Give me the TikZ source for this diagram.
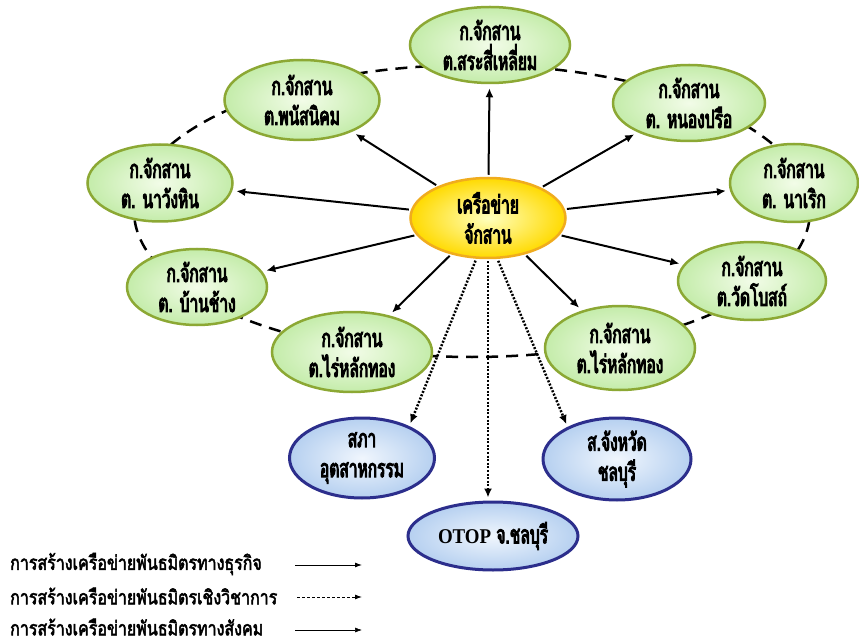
\documentclass[tikz,border=0pt]{standalone}
\usepackage{fontspec}
\newfontfamily\thai[Script=Thai,FakeStretch=0.62,FakeBold=4]{Loma}
\newfontfamily\thaileg[Script=Thai,FakeStretch=0.8,FakeBold=2.5]{Loma}
\newfontfamily\latn[FakeStretch=0.9]{Liberation Serif}
\usetikzlibrary{shapes.geometric,arrows.meta}
\definecolor{gborder}{RGB}{140,168,52}
\definecolor{ginner}{RGB}{242,252,232}
\definecolor{gouter}{RGB}{196,236,170}
\definecolor{yborder}{RGB}{240,172,30}
\definecolor{yinner}{RGB}{255,255,190}
\definecolor{youter}{RGB}{255,218,0}
\definecolor{bborder}{RGB}{44,46,140}
\definecolor{binner}{RGB}{240,246,253}
\definecolor{bouter}{RGB}{182,208,240}
\begin{document}
\begin{tikzpicture}[x=1pt,y=-1pt,
  base/.style={ellipse, inner sep=0pt, align=center, line width=2.5pt,
    font=\thai\fontsize{25}{30}\selectfont},
  tambon/.style={base, draw=gborder, inner color=ginner, outer color=gouter},
  hub/.style={base, draw=yborder, inner color=yinner, outer color=youter},
  partner/.style={base, draw=bborder, line width=3pt, inner color=binner, outer color=bouter},
  ring/.style={line width=2.5pt, dash pattern=on 12pt off 8pt},
  solidarr/.style={line width=2pt, -{Latex[length=9pt,width=8pt]}, shorten >=4pt, shorten <=2pt},
  dotarr/.style={line width=2.5pt, dash pattern=on 2pt off 1.6pt, -{Latex[length=9pt,width=8pt]}, shorten >=3pt, shorten <=2pt},
  legtext/.style={anchor=west, inner sep=0pt, font=\thaileg\fontsize{20}{22}\selectfont},
  legarr/.style={line width=0.9pt, -{Latex[length=7pt,width=5pt]}}
]
\useasboundingbox[fill=white] (0,0) rectangle (859,644);
\draw[ring] (472,211) ellipse [x radius=338pt, y radius=146pt];

\node[tambon, minimum width=160pt, minimum height=76pt] (sra) at (490,45) {ก.จักสาน\\ต.สระสี่เหลี่ยม};
\node[tambon, minimum width=155pt, minimum height=80pt] (phanat) at (302,100) {ก.จักสาน\\ต.พนัสนิคม};
\node[tambon, minimum width=152pt, minimum height=76pt] (nong) at (689,103) {ก.จักสาน\\ต. หนองปรือ};
\node[tambon, minimum width=145pt, minimum height=77pt] (nawang) at (160,183) {ก.จักสาน\\ต. นาวังหิน};
\node[tambon, minimum width=128pt, minimum height=78pt] (narerk) at (794,183) {ก.จักสาน\\ต. นาเริก};
\node[tambon, minimum width=140pt, minimum height=76pt] (banchang) at (197,287) {ก.จักสาน\\ต. บ้านช้าง};
\node[tambon, minimum width=148pt, minimum height=78pt] (wat) at (752,281) {ก.จักสาน\\ต.วัดโบสถ์};
\node[tambon, minimum width=160pt, minimum height=80pt] (rail) at (352,352) {ก.จักสาน\\ต.ไร่หลักทอง};
\node[tambon, minimum width=150pt, minimum height=84pt] (rair) at (620,348) {ก.จักสาน\\ต.ไร่หลักทอง};
\node[hub, minimum width=155pt, minimum height=80pt] (center) at (488,218) {เครือข่าย\\จักสาน};
\node[partner, minimum width=145pt, minimum height=80pt] (spha) at (362,458) {สภา\\อุตสาหกรรม};
\node[partner, minimum width=148pt, minimum height=82pt] (chang) at (617,459) {ส.จังหวัด\\ชลบุรี};
\node[partner, minimum width=170pt, minimum height=68pt] (otop) at (493,536) {{\latn\bfseries\fontsize{21}{24}\selectfont OTOP} จ.ชลบุรี};

\foreach \t in {sra,phanat,nong,nawang,narerk,banchang,wat,rail,rair}
  \draw[solidarr] (center) -- (\t);

\draw[dotarr] (center.254) -- (spha.34);
\draw[dotarr] (center.south) -- (center.south |- otop.north);
\draw[dotarr] (center.283) -- (chang.147);

\node[legtext] (leg1) at (10,564) {การสร้างเครือข่ายพันธมิตรทางธุรกิจ};
\node[legtext] (leg2) at (10,596) {การสร้างเครือข่ายพันธมิตรเชิงวิชาการ};
\node[legtext] (leg3) at (10,627) {การสร้างเครือข่ายพันธมิตรทางสังคม};
\coordinate (a1s) at (295,565); \coordinate (a1e) at (362,565);
\coordinate (a2s) at (297,597); \coordinate (a2e) at (362,597);
\coordinate (a3s) at (295,630); \coordinate (a3e) at (362,630);
\draw[legarr] (a1s) -- (a1e);
\draw[legarr, dash pattern=on 3pt off 2pt] (a2s) -- (a2e);
\draw[legarr, line width=0.6pt] (a3s) -- (a3e);
\end{tikzpicture}
\end{document}
